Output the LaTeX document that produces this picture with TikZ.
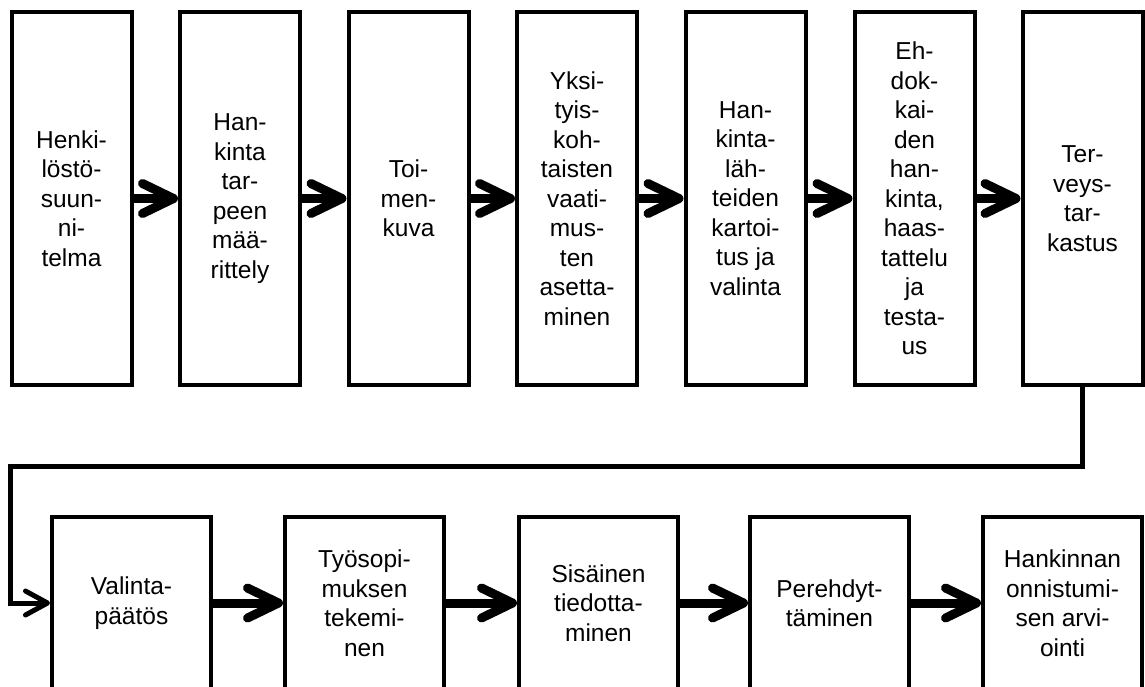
\documentclass[tikz,border=0pt]{standalone}
\usepackage{fontspec}
\setmainfont{Liberation Sans}
\usetikzlibrary{arrows.meta}

\begin{document}
\begin{tikzpicture}[x=1pt, y=-1pt,
		stage/.style={draw, line width=4pt, minimum width=120pt, minimum height=373pt, inner sep=0pt, align=center, font=\fontsize{24.5pt}{29.5pt}\selectfont},
		lowstage/.style={stage, minimum width=159pt, minimum height=172pt},
		flow/.style={line width=9pt, -{Straight Barb[length=31pt, width=30pt, round]}},
		back/.style={line width=5pt, -{Straight Barb[length=22pt, width=24pt, round]}}
		]
		\useasboundingbox (0,0) rectangle (1145,686);

		% Upper row
		\node[stage] (suunnitelma) at (71.5,198.5) {Henki-\\löstö-\\suun-\\ni-\\telma};
		\node[stage] (tarve) at (240,198.5) {Han-\\kinta\\tar-\\peen\\mää-\\rittely};
		\node[stage] (toimenkuva) at (408.5,198.5) {Toi-\\men-\\kuva};
		\node[stage] (vaatimukset) at (577,198.5) {Yksi-\\tyis-\\koh-\\taisten\\vaati-\\mus-\\ten\\asetta-\\minen};
		\node[stage] (lahteet) at (745.5,198.5) {Han-\\kinta-\\läh-\\teiden\\kartoi-\\tus ja\\valinta};
		\node[stage] (ehdokkaat) at (914.5,198.5) {Eh-\\dok-\\kai-\\den\\han-\\kinta,\\haas-\\tattelu\\ja\\testa-\\us};
		\node[stage] (terveys) at (1082.5,198.5) {Ter-\\veys-\\tar-\\kastus};

		% Lower row, cut off by the page bottom
		\node[lowstage] (paatos) at (131.5,603) {Valinta-\\päätös};
		\node[lowstage] (sopimus) at (364.5,603) {Työsopi-\\muksen\\tekemi-\\nen};
		\node[lowstage] (tiedotus) at (598.5,603) {Sisäinen\\tiedotta-\\minen};
		\node[lowstage] (perehdytys) at (829.5,603) {Perehdyt-\\täminen};
		\node[lowstage] (arviointi) at (1062.5,603) {Hankinnan\\onnistumi-\\sen arvi-\\ointi};

		% Arrows
		\draw[flow] (suunnitelma) -- (tarve);
		\draw[flow] (tarve) -- (toimenkuva);
		\draw[flow] (toimenkuva) -- (vaatimukset);
		\draw[flow] (vaatimukset) -- (lahteet);
		\draw[flow] (lahteet) -- (ehdokkaat);
		\draw[flow] (ehdokkaat) -- (terveys);
		\draw[flow] (paatos) -- (sopimus);
		\draw[flow] (sopimus) -- (tiedotus);
		\draw[flow] (tiedotus) -- (perehdytys);
		\draw[flow] (perehdytys) -- (arviointi);

		% Return to the lower row
		\coordinate (kulma) at (10,466);
		\draw[back] (terveys.south) |- (kulma) |- (paatos.west);
	\end{tikzpicture}
\end{document}
